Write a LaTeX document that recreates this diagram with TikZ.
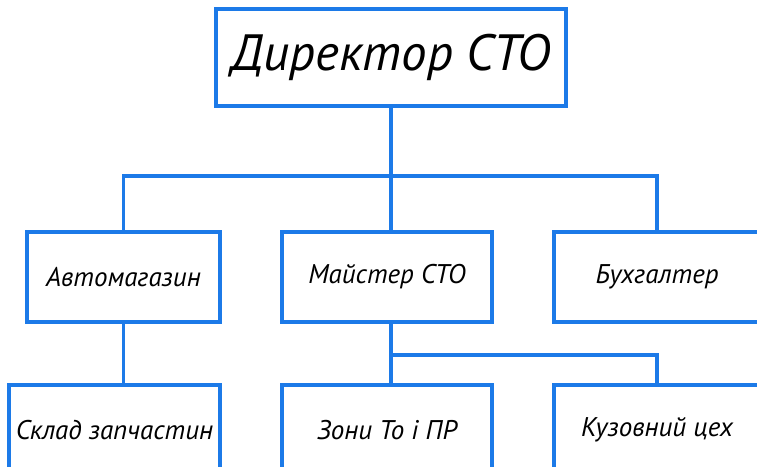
\documentclass[tikz,border=0pt]{standalone}
\usepackage{fontspec}
\newfontfamily\gost{PT Sans Italic}
\usepackage{tikz}
\usetikzlibrary{positioning,calc}
\definecolor{lineblue}{RGB}{28,122,232}
\tikzset{box/.style={draw=lineblue,line width=3.3pt,align=center,minimum height=90pt,font=\gost\fontsize{27}{30}\selectfont},
 head/.style={box,minimum width=350pt,minimum height=97pt,font=\gost\fontsize{51}{54}\selectfont},
 link/.style={draw=lineblue,line width=3.3pt}}

\begin{document}
\begin{tikzpicture}[x=1pt,y=-1pt]
\useasboundingbox (0,0) rectangle (757,466);
\clip (0,0) rectangle (757,466);
\node[head] (dir) at (391,57.5) {Директор СТО};
\node[box,minimum width=193pt] (shop) at (123.5,277) {Автомагазин};
\node[box,minimum width=210pt] (master) at (387,277) {Майстер СТО};
\node[box,minimum width=206pt] (acct) at (657,277) {Бухгалтер};
\node[box,minimum width=211pt] (store) at (114.5,430) {Склад запчастин};
\node[box,minimum width=210pt] (zones) at (387,430) {Зони То і ПР};
\node[box,minimum width=206pt] (body) at (657,430) {Кузовний цех};
\coordinate (hub) at (391,176);
\coordinate (sub) at (391,355);

\draw[link] (dir.south) -- (dir.south |- master.north);
\draw[link] (shop.north) |- (hub) -| (acct.north);
\draw[link] (shop.south) -- (shop.south |- store.north);
\draw[link] (dir.south |- master.south) -- (dir.south |- zones.north);
\draw[link] (sub) -| (body.north);
\end{tikzpicture}
\end{document}
